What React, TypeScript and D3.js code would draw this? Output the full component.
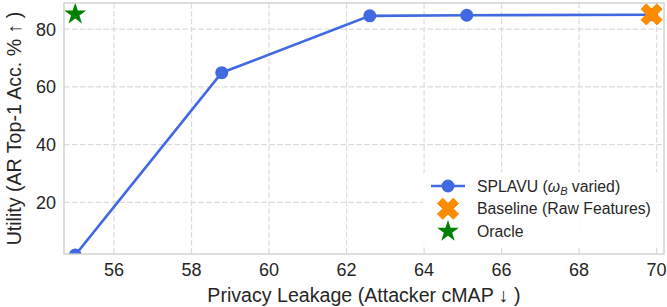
import React from "react";
import * as d3 from "d3";

const splavuX = [55.0, 58.78, 62.6, 65.1, 69.87];
const splavuY = [1.7, 64.9, 84.6, 84.8, 85.0];
const baselineX = [69.87];
const baselineY = [85.1];
const oracleX = [55.0];
const oracleY = [85.2];
const xTicks = [56, 58, 60, 62, 64, 66, 68, 70];
const yTicks = [20, 40, 60, 80];

const W = 667, H = 307;
const L = 64, R = 664, T = 3, B = 254;
const FONT = "'Liberation Sans', Arial, sans-serif";
const TXT = "#262626";

function starPath(r: number) {
  const ri = r * 0.381966;
  const pts: [number, number][] = [];
  for (let i = 0; i < 10; i++) {
    const a = -Math.PI / 2 + (i * Math.PI) / 5;
    const rr = i % 2 === 0 ? r : ri;
    pts.push([rr * Math.cos(a), rr * Math.sin(a)]);
  }
  return "M" + pts.map((p) => p.join(",")).join("L") + "Z";
}

function xPath(l: number) {
  const w = l / 3;
  const base: [number, number][] = [
    [-w, -l], [w, -l], [w, -w], [l, -w], [l, w], [w, w],
    [w, l], [-w, l], [-w, w], [-l, w], [-l, -w], [-w, -w],
  ];
  const c = Math.cos(Math.PI / 4), s = Math.sin(Math.PI / 4);
  const pts = base.map(([x, y]) => [x * c - y * s, x * s + y * c]);
  return "M" + pts.map((p) => p.join(",")).join("L") + "Z";
}

export default function App() {
  const x = d3.scaleLinear().domain([54.71, 70.19]).range([L, R]);
  const y = d3.scaleLinear().domain([2.08, 89.05]).range([B, T]);
  const line = d3
    .line<number>()
    .x((_, i) => x(splavuX[i]))
    .y((d) => y(d));
  const star = starPath(11.5);
  const xm = xPath(11.2);

  const legX = 448, legY0 = 186, legDy = 22.7;
  const tickFs = 18;
  const legFs = 15.8;

  return (
    <svg
      width={W}
      height={H}
      style={{ position: "absolute", left: 0, top: 0, background: "#fff" }}
      fontFamily={FONT}
    >
      <defs>
        <clipPath id="plotclip">
          <rect x={L} y={T} width={R - L} height={B - T} />
        </clipPath>
      </defs>
      {xTicks.map((t) => (
        <line key={"gx" + t} x1={x(t)} x2={x(t)} y1={T} y2={B} stroke="#dcdcdc" strokeWidth={1.2} strokeDasharray="5.5,2.4" />
      ))}
      {yTicks.map((t) => (
        <line key={"gy" + t} x1={L} x2={R} y1={y(t)} y2={y(t)} stroke="#dcdcdc" strokeWidth={1.2} strokeDasharray="5.5,2.4" />
      ))}
      <g clipPath="url(#plotclip)">
        <path d={line(splavuY) || ""} fill="none" stroke="#4169E1" strokeWidth={2.6} />
        {splavuY.map((v, i) => (
          <circle key={i} cx={x(splavuX[i])} cy={y(v)} r={6.5} fill="#4169E1" />
        ))}
        {baselineY.map((v, i) => (
          <path key={"b" + i} d={xm} transform={`translate(${x(baselineX[i])},${y(v)})`} fill="#FF8C00" stroke="#FF8C00" strokeWidth={1} strokeLinejoin="round" />
        ))}
        {oracleY.map((v, i) => (
          <path key={"o" + i} d={star} transform={`translate(${x(oracleX[i])},${y(v)})`} fill="#008000" />
        ))}
      </g>
      <rect x={L} y={T} width={R - L} height={B - T} fill="none" stroke="#cccccc" strokeWidth={1.3} />
      {xTicks.map((t) => (
        <text key={"tx" + t} x={x(t)} y={276} textAnchor="middle" fontSize={tickFs} fill={TXT}>
          {t}
        </text>
      ))}
      {yTicks.map((t) => (
        <text key={"ty" + t} x={56} y={y(t) + 6.4} textAnchor="end" fontSize={tickFs} fill={TXT}>
          {t}
        </text>
      ))}
      <text x={(L + R) / 2} y={302} textAnchor="middle" fontSize={19.6} fill={TXT}>
        Privacy Leakage (Attacker cMAP ↓ )
      </text>
      <text transform={`translate(21,${(T + B) / 2}) rotate(-90)`} textAnchor="middle" fontSize={19.6} fill={TXT}>
        Utility (AR Top-1 Acc. % ↑ )
      </text>
      <rect x={423} y={172} width={238} height={74} rx={3} fill="#fff" fillOpacity={0.85} />
      <line x1={legX - 17} x2={legX + 17} y1={legY0} y2={legY0} stroke="#4169E1" strokeWidth={2.6} />
      <circle cx={legX} cy={legY0} r={6.5} fill="#4169E1" />
      <path d={xm} transform={`translate(${legX},${legY0 + legDy})`} fill="#FF8C00" stroke="#FF8C00" strokeWidth={1} strokeLinejoin="round" />
      <path d={star} transform={`translate(${legX},${legY0 + 2 * legDy})`} fill="#008000" />
      <text x={477} y={legY0 + 5.7} fontSize={legFs} fill={TXT}>
        SPLAVU (<tspan fontStyle="italic">ω</tspan>
        <tspan fontStyle="italic" fontSize={11} dy={3}>B</tspan>
        <tspan dy={-3}> varied)</tspan>
      </text>
      <text x={477} y={legY0 + legDy + 5.7} fontSize={legFs} fill={TXT}>
        Baseline (Raw Features)
      </text>
      <text x={477} y={legY0 + 2 * legDy + 5.7} fontSize={legFs} fill={TXT}>
        Oracle
      </text>
    </svg>
  );
}
